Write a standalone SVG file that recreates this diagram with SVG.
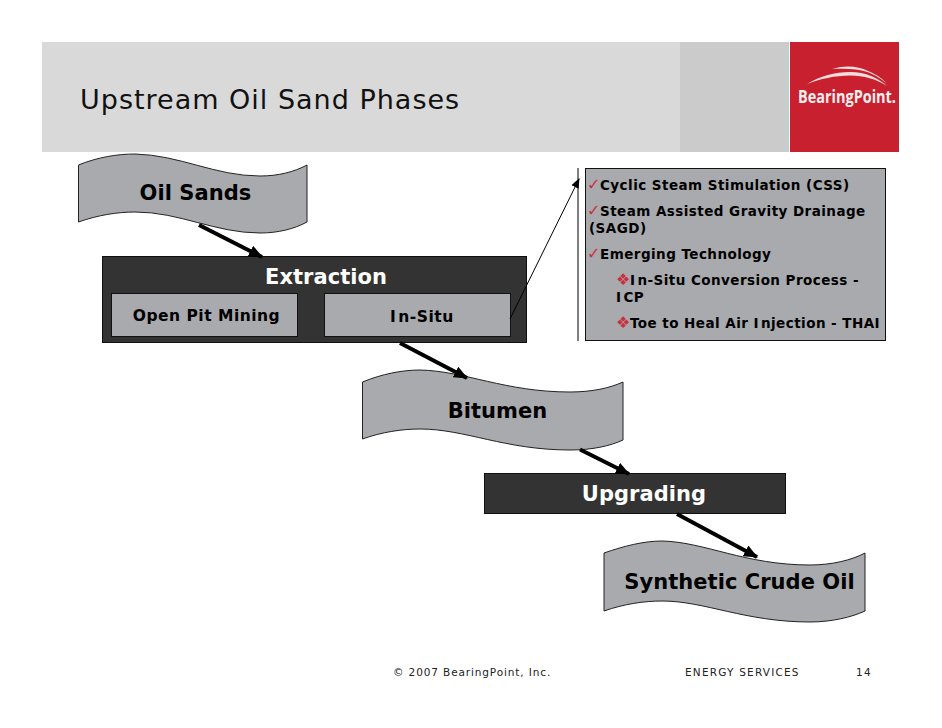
<svg xmlns="http://www.w3.org/2000/svg" width="942" height="728" viewBox="0 0 942 728">
<style>
text{font-family:"DejaVu Sans",sans-serif;font-weight:bold;fill:#000}
.tape{fill:#a9aaad;stroke:#222;stroke-width:1}
.dark{fill:#333;stroke:#111;stroke-width:1}
.box{fill:#a9aaad;stroke:#111;stroke-width:1}
.t21{font-size:21px;letter-spacing:.05px}
.wh{fill:#fff}
.t17{font-size:15.5px;letter-spacing:.5px}
.li{font-size:13.5px;letter-spacing:.45px}
.red{fill:#c8303f;font-size:16px;font-weight:normal}
.foot{font-size:10.5px;font-weight:normal;letter-spacing:.88px;fill:#222}
.thick{stroke:#000;stroke-width:4;fill:none;marker-end:url(#ah)}
.thin{stroke:#000;stroke-width:1;fill:none;marker-end:url(#as)}
</style>
<defs>
<marker id="ah" markerUnits="userSpaceOnUse" markerWidth="14" markerHeight="12" refX="13" refY="6" orient="auto"><path d="M0 0L14 6L0 12Z" fill="#000"/></marker>
<marker id="as" markerUnits="userSpaceOnUse" markerWidth="10" markerHeight="10" refX="9" refY="5" orient="auto"><path d="M0 1L10 5L0 9Z" fill="#000"/></marker>
</defs>
<g id="header">
<rect x="42" y="42" width="638" height="110" fill="#d9d9d9"/>
<rect x="680" y="42" width="109" height="110" fill="#cbcbcb"/>
<text x="80" y="109" font-size="27" style="font-weight:normal;letter-spacing:1px;fill:#111">Upstream Oil Sand Phases</text>
</g>
<g id="logo">
<rect x="790" y="42" width="109" height="110" fill="#c8202f"/>
<path d="M807 84C820 76 835 72 850 72C866 72 878 78 887 86C876 79 864 75.500 850 75.500C835 75.500 820 79 807 84Z" fill="#f6dcdc"/>
<path d="M832 69C845 65 858 66 868 71C878 75 884 80 886 83C878 76 868 71 856 69.500C848 68.500 840 68.500 832 69Z" fill="#f6dcdc"/>
<text x="798" y="103" font-size="17" textLength="98" lengthAdjust="spacingAndGlyphs" style="font-family:'Open Sans',sans-serif;fill:#fbeeee">BearingPoint.</text>
</g>
<g id="oil-sands">
<path class="tape" d="M78.500 165C98 157 118 154 135 154C180 155 215 176 260 176C278 176 294 172 307 165V222C294 229 278 233 260 233C215 233 180 212 135 212C118 212 98 215 78.500 222Z"/>
<text class="t21" x="195.500" y="200" text-anchor="middle">Oil Sands</text>
</g>
<g id="extraction">
<rect class="dark" x="102.500" y="256.500" width="424" height="86"/>
<text class="t21 wh" x="326" y="284" text-anchor="middle">Extraction</text>
</g>
<g id="open-pit-mining">
<rect class="box" x="111.500" y="293.500" width="186" height="43"/>
<text class="t17" x="206.500" y="321" text-anchor="middle">Open Pit Mining</text>
</g>
<g id="in-situ">
<rect class="box" x="324.500" y="293.500" width="186" height="43"/>
<text class="t17" x="390" y="322">I<tspan dx="2">n-Situ</tspan></text>
</g>
<g id="methods">
<rect class="box" x="585.500" y="168.500" width="300" height="172"/>
<text class="li" y="190"><tspan class="red" x="587">✓</tspan><tspan x="600">Cyclic Steam Stimulation (CSS)</tspan></text>
<text class="li" y="216"><tspan class="red" x="587">✓</tspan><tspan x="600">Steam Assisted Gravity Drainage</tspan></text>
<text class="li" x="589" y="233">(SAGD)</text>
<text class="li" y="259"><tspan class="red" x="587">✓</tspan><tspan x="600">Emerging Technology</tspan></text>
<text class="li" y="285"><tspan class="red" x="616">❖</tspan><tspan x="630">I<tspan dx="2">n-Situ Conversion Process -</tspan></tspan></text>
<text class="li" x="616" y="302">I<tspan dx="2">CP</tspan></text>
<text class="li" y="328"><tspan class="red" x="616">❖</tspan><tspan x="630">Toe to Heal Air I<tspan dx="2">njection - THAI</tspan></tspan></text>
</g>
<g id="bitumen">
<path class="tape" d="M362.500 382C382 374 402 370 420 370C465 371 505 392 570 392C592 392 610 388 623 382V440C610 446 592 450 570 450C505 450 465 429 420 429C402 429 382 432 362.500 439Z"/>
<text class="t21" x="497.500" y="418" text-anchor="middle">Bitumen</text>
</g>
<g id="upgrading">
<rect class="dark" x="484.500" y="473.500" width="301" height="40"/>
<text class="t21 wh" x="644" y="501" text-anchor="middle">Upgrading</text>
</g>
<g id="synthetic-crude-oil">
<path class="tape" d="M604 553C624 546 644 541 662 541C705 542 745 565 810 565C832 565 852 560 865 553V611C852 617 832 622 810 622C745 622 705 601 662 601C644 601 624 604 604 611Z"/>
<text class="t21" x="739.500" y="589" text-anchor="middle">Synthetic Crude Oil</text>
</g>
<g id="connectors">
<line class="thick" x1="199" y1="225" x2="262" y2="257"/>
<line class="thick" x1="400" y1="343" x2="467" y2="378"/>
<line class="thick" x1="580" y1="449.500" x2="629" y2="474"/>
<line class="thick" x1="677" y1="514" x2="757" y2="557"/>
<line class="thin" x1="510" y1="319" x2="579" y2="179"/>
<line x1="578" y1="168" x2="578" y2="341" stroke="#000" stroke-width="1"/>
</g>
<g id="footer">
<text class="foot" x="393" y="676">© 2007 BearingPoint, Inc.</text>
<text class="foot" x="685" y="676" style="letter-spacing:1.2px">ENERGY SERVICES</text>
<text class="foot" x="856" y="676" style="letter-spacing:1.4px">14</text>
</g>
</svg>
